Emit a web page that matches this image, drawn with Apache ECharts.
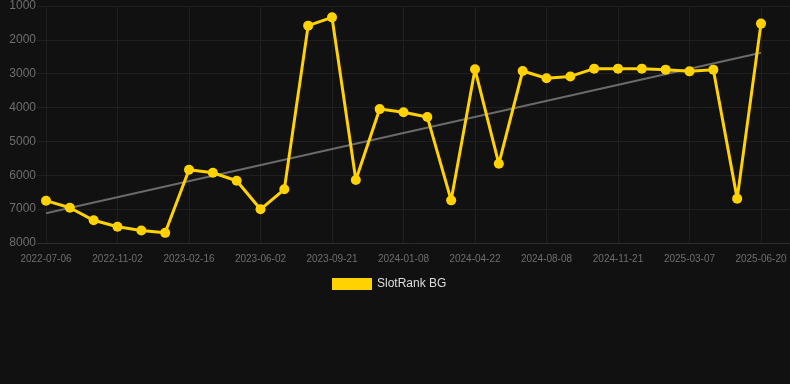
<!DOCTYPE html>
<html><head><meta charset="utf-8">
<script src="https://cdn.jsdelivr.net/npm/echarts@6/dist/echarts.min.js"></script>
<style>html,body{margin:0;padding:0;background:#111111;}#c{width:790px;height:384px;}</style>
</head><body><div id="c"></div>
<script>
const categories = ["2022-07-06","2022-08-15","2022-09-24","2022-11-02","2022-12-07","2023-01-12","2023-02-16","2023-03-23","2023-04-27","2023-06-02","2023-07-09","2023-08-15","2023-09-21","2023-10-27","2023-12-02","2024-01-08","2024-02-11","2024-03-17","2024-04-22","2024-05-28","2024-07-03","2024-08-08","2024-09-12","2024-10-17","2024-11-21","2024-12-26","2025-01-30","2025-03-07","2025-04-11","2025-05-16","2025-06-20"];
const rankValues = [6750,6960,7330,7520,7630,7700,5835,5925,6160,7005,6415,1580,1335,6140,4045,4140,4280,6740,2870,5660,2920,3135,3080,2850,2850,2850,2880,2930,2880,6690,1520];
const trendStart = 7120;
const trendEnd = 2380;
const yTicks = [1000,2000,3000,4000,5000,6000,7000,8000];
const seriesName = "SlotRank BG";

const last = categories.length - 1;
const trendValues = categories.map((c, i) => i === 0 ? trendStart : (i === last ? trendEnd : null));
const font = "'Liberation Sans', Arial, sans-serif";

const chart = echarts.init(document.getElementById('c'), null, {renderer: 'canvas'});
chart.setOption({
  backgroundColor: '#111111',
  animation: false,
  textStyle: {fontFamily: font},
  grid: [
    {left: 46, right: 29, top: 6, bottom: 141, containLabel: false},
    {left: 37, right: 0, top: 6, bottom: 141, containLabel: false}
  ],
  legend: {
    data: [{name: seriesName, icon: 'rect', itemStyle: {color: '#FFD200'}}],
    left: 327, top: 273,
    itemWidth: 40, itemHeight: 12, itemGap: 10,
    textStyle: {color: '#dddddd', fontSize: 12, fontFamily: font}
  },
  xAxis: [
    {
      type: 'category', gridIndex: 0, data: categories, boundaryGap: false,
      axisLine: {show: false}, axisTick: {show: false},
      axisLabel: {interval: 2, color: '#6e6e6e', fontSize: 10, margin: 11, fontFamily: font},
      splitLine: {show: true, interval: 2, lineStyle: {color: '#1f1f1f', width: 1}}
    },
    {
      type: 'value', gridIndex: 1, min: 0, max: 1, position: 'bottom',
      axisLine: {show: true, onZero: false, lineStyle: {color: '#2c2c2c'}},
      axisTick: {show: false}, axisLabel: {show: false}, splitLine: {show: false}
    }
  ],
  yAxis: [
    {
      type: 'value', gridIndex: 0, inverse: true, min: yTicks[0], max: yTicks[yTicks.length-1], interval: 1000,
      axisLine: {show: false}, axisTick: {show: false},
      axisLabel: {color: '#6e6e6e', fontSize: 12, margin: 10, fontFamily: font, formatter: v => String(v)},
      splitLine: {show: false}
    },
    {
      type: 'value', gridIndex: 1, inverse: true, min: yTicks[0], max: yTicks[yTicks.length-1], interval: 1000,
      axisLine: {show: false}, axisTick: {show: false}, axisLabel: {show: false},
      splitLine: {show: true, lineStyle: {color: '#1f1f1f', width: 1}}
    }
  ],
  series: [
    {
      name: 'trend', type: 'line', xAxisIndex: 0, yAxisIndex: 0,
      data: trendValues, connectNulls: true, showSymbol: false, symbol: 'none',
      lineStyle: {color: '#6a6a6a', width: 2}, z: 2, silent: true
    },
    {
      name: seriesName, type: 'line', xAxisIndex: 0, yAxisIndex: 0,
      data: rankValues, symbol: 'circle', symbolSize: 10, showSymbol: true,
      lineStyle: {color: '#FFD200', width: 3}, itemStyle: {color: '#FFD200'}, z: 3
    }
  ]
});
</script></body></html>
